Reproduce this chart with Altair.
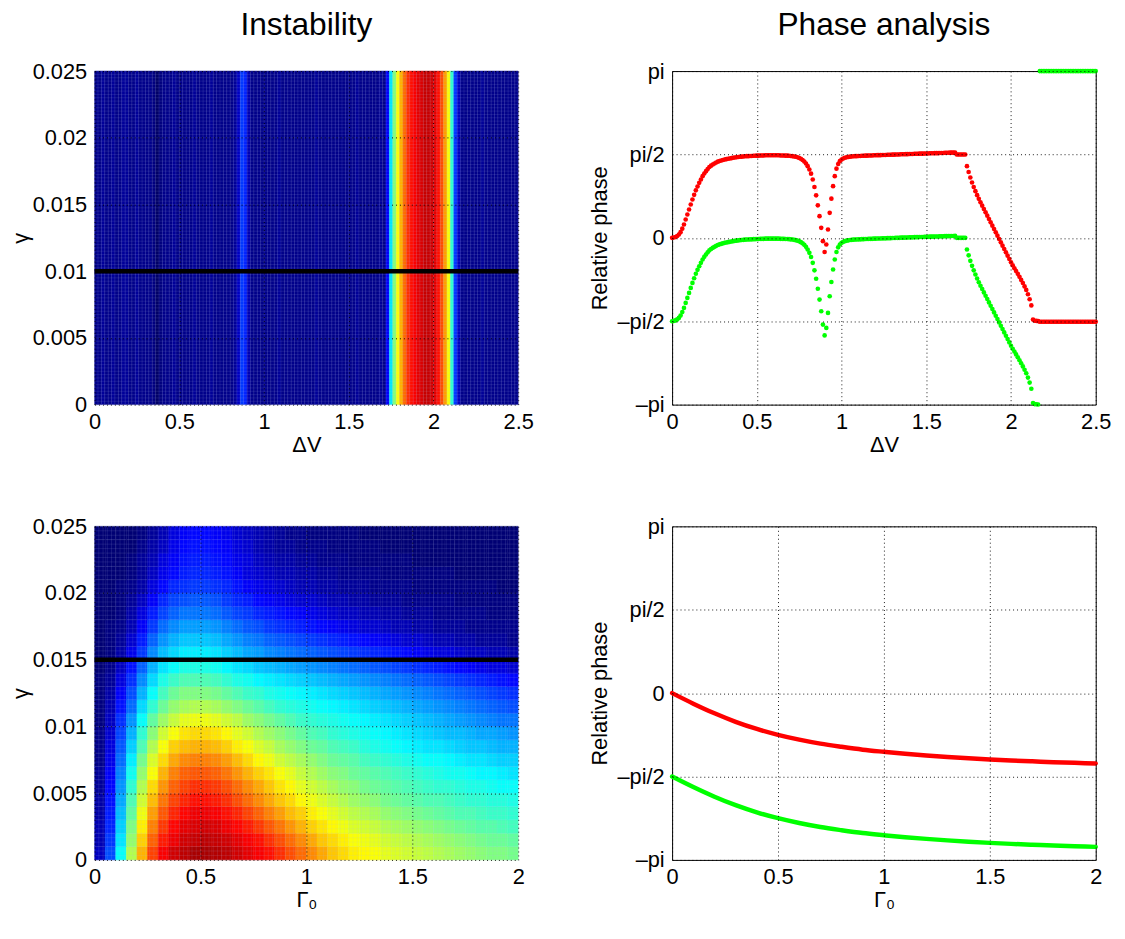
import altair as alt
import numpy as np
import pandas as pd

FONT = "Liberation Sans"
W, H = 428, 337

# ---------------- Top-left: instability map vs ΔV (value x100, columns of width 0.02) ----------------
dv_step = 0.02
inst_dv = [
    4, 4, 5, 4, 4, 5, 4, 4, 5, 5,
    4, 4, 5, 4, 4, 4, 4, 3, 1, 3,
    4, 4, 4, 5, 4, 4, 4, 4, 4, 5,
    4, 4, 4, 4, 5, 4, 4, 4, 4, 4,
    4, 5, 8, 18, 16, 7, 4, 4, 4, 4,
    4, 4, 4, 4, 5, 4, 4, 4, 4, 4,
    4, 4, 4, 4, 4, 5, 4, 4, 4, 4,
    4, 4, 4, 4, 4, 4, 4, 5, 4, 4,
    4, 4, 4, 4, 5, 4, 12, 35, 50, 62,
    70, 77, 83, 86, 88, 90, 91, 93, 93, 92,
    90, 86, 80, 72, 62, 42, 18, 8, 4, 4,
    4, 4, 4, 4, 5, 4, 4, 4, 4, 4,
    4, 4, 4, 4, 4,
]
gamma_range = [0.0, 0.025]
cut_gamma_top = [0.01]

# ---------------- Bottom-left: instability map vs Γ0 and γ (value x100) ----------------
g0_step = 0.05
gam_step = 0.001
inst_g0 = [  # rows from γ=0 upward, columns from Γ0=0 rightward
    [8, 20, 38, 55, 70, 81, 88, 92, 94, 96, 96, 95, 94, 92, 90, 88, 86, 83, 80, 77, 74, 71, 68, 66, 64, 63, 62, 60, 59, 58, 57, 56, 55, 54, 53, 52, 51, 50, 50, 49],
    [7, 18, 35, 52, 67, 78, 85, 89, 92, 93, 94, 93, 92, 90, 88, 86, 83, 80, 77, 74, 71, 68, 66, 64, 62, 61, 60, 58, 57, 56, 55, 54, 53, 52, 51, 50, 49, 48, 48, 47],
    [7, 16, 33, 50, 64, 75, 82, 87, 90, 91, 92, 91, 89, 87, 85, 82, 79, 76, 73, 70, 67, 65, 63, 61, 59, 58, 57, 55, 54, 53, 52, 51, 50, 49, 48, 47, 46, 46, 45, 44],
    [6, 15, 31, 47, 61, 72, 79, 84, 87, 89, 89, 88, 86, 84, 81, 78, 75, 72, 69, 67, 64, 62, 60, 58, 56, 55, 54, 52, 51, 50, 49, 48, 47, 46, 45, 45, 44, 43, 43, 42],
    [6, 14, 29, 45, 58, 69, 76, 81, 84, 86, 86, 85, 83, 80, 77, 74, 71, 68, 66, 63, 61, 59, 57, 55, 53, 52, 51, 49, 48, 47, 46, 45, 45, 44, 43, 42, 42, 41, 41, 40],
    [5, 13, 27, 42, 55, 66, 73, 78, 81, 83, 83, 82, 80, 77, 74, 71, 68, 65, 63, 60, 58, 56, 54, 52, 51, 49, 48, 47, 46, 45, 44, 43, 42, 42, 41, 40, 40, 39, 38, 38],
    [5, 12, 25, 39, 52, 62, 70, 75, 78, 79, 79, 78, 76, 73, 70, 67, 65, 62, 60, 57, 55, 53, 51, 50, 48, 47, 46, 45, 44, 43, 42, 41, 40, 39, 39, 38, 37, 37, 36, 35],
    [4, 11, 23, 36, 49, 59, 66, 71, 74, 75, 75, 74, 72, 69, 66, 63, 61, 58, 56, 54, 52, 50, 48, 47, 46, 44, 43, 42, 41, 40, 39, 38, 38, 37, 36, 35, 35, 34, 33, 33],
    [4, 10, 21, 33, 45, 55, 62, 67, 69, 70, 70, 69, 67, 64, 62, 59, 57, 54, 52, 50, 48, 47, 45, 44, 43, 41, 40, 39, 38, 37, 36, 35, 35, 34, 33, 32, 32, 31, 30, 30],
    [4, 9, 19, 30, 42, 51, 58, 62, 65, 66, 66, 65, 63, 60, 58, 55, 53, 51, 49, 47, 45, 44, 42, 41, 40, 39, 38, 37, 36, 35, 34, 33, 32, 31, 31, 30, 29, 29, 28, 27],
    [3, 8, 17, 27, 38, 47, 53, 57, 60, 61, 61, 60, 58, 56, 53, 51, 49, 47, 45, 43, 42, 41, 40, 39, 38, 37, 36, 35, 34, 33, 32, 31, 30, 29, 28, 27, 26, 25, 24, 24],
    [3, 7, 14, 23, 34, 42, 48, 52, 54, 55, 55, 54, 52, 50, 48, 46, 44, 42, 41, 40, 39, 38, 37, 36, 35, 34, 33, 32, 31, 30, 29, 28, 27, 26, 25, 24, 23, 22, 21, 20],
    [3, 6, 12, 20, 30, 38, 44, 48, 50, 50, 50, 49, 47, 45, 43, 42, 40, 39, 38, 37, 36, 35, 34, 33, 32, 31, 30, 29, 28, 27, 26, 25, 24, 23, 22, 21, 20, 19, 18, 17],
    [3, 5, 10, 17, 26, 34, 40, 43, 45, 45, 45, 44, 42, 40, 39, 37, 36, 35, 34, 33, 32, 31, 30, 29, 28, 27, 26, 25, 24, 23, 22, 21, 20, 19, 18, 17, 16, 15, 14, 13],
    [2, 4, 8, 14, 22, 30, 35, 38, 40, 40, 40, 39, 37, 35, 34, 32, 31, 30, 29, 28, 27, 26, 25, 24, 23, 22, 21, 20, 19, 18, 17, 16, 15, 14, 13, 12, 11, 10, 10, 9],
    [2, 3, 6, 11, 18, 26, 31, 34, 36, 36, 36, 35, 33, 31, 29, 28, 26, 25, 24, 23, 22, 21, 20, 19, 18, 17, 16, 15, 14, 13, 12, 11, 10, 10, 9, 8, 8, 7, 7, 6],
    [2, 3, 5, 9, 15, 22, 27, 30, 32, 32, 32, 31, 29, 27, 25, 24, 22, 21, 20, 19, 18, 17, 16, 15, 14, 13, 12, 11, 10, 9, 9, 8, 7, 7, 6, 6, 5, 5, 5, 4],
    [2, 3, 4, 7, 12, 18, 23, 26, 28, 28, 28, 27, 25, 23, 21, 20, 18, 17, 16, 15, 14, 13, 12, 11, 10, 9, 9, 8, 7, 7, 6, 6, 5, 5, 5, 4, 4, 4, 4, 4],
    [2, 2, 3, 6, 10, 15, 19, 22, 24, 24, 24, 23, 21, 19, 18, 16, 15, 14, 13, 12, 11, 10, 9, 8, 8, 7, 7, 6, 6, 5, 5, 5, 4, 4, 4, 4, 4, 3, 3, 3],
    [2, 2, 3, 5, 8, 12, 16, 19, 20, 21, 21, 20, 18, 16, 15, 13, 12, 11, 10, 9, 9, 8, 7, 7, 6, 6, 5, 5, 5, 4, 4, 4, 4, 4, 3, 3, 3, 3, 3, 3],
    [2, 2, 3, 4, 6, 10, 13, 16, 17, 18, 18, 17, 16, 14, 12, 11, 10, 9, 8, 7, 7, 6, 6, 5, 5, 5, 4, 4, 4, 4, 3, 3, 3, 3, 3, 3, 3, 3, 2, 2],
    [2, 2, 2, 3, 5, 8, 11, 13, 15, 16, 16, 15, 14, 12, 10, 9, 8, 7, 7, 6, 6, 5, 5, 4, 4, 4, 4, 3, 3, 3, 3, 3, 3, 3, 2, 2, 2, 2, 2, 2],
    [2, 2, 2, 3, 5, 7, 10, 12, 14, 15, 15, 14, 13, 11, 10, 8, 7, 6, 6, 5, 5, 4, 4, 4, 3, 3, 3, 3, 3, 3, 2, 2, 2, 2, 2, 2, 2, 2, 2, 2],
    [2, 2, 2, 2, 4, 6, 8, 11, 13, 14, 14, 13, 12, 10, 9, 7, 6, 5, 5, 4, 4, 4, 3, 3, 3, 3, 3, 2, 2, 2, 2, 2, 2, 2, 2, 2, 2, 2, 2, 2],
    [2, 2, 2, 2, 3, 5, 7, 10, 12, 13, 13, 12, 11, 9, 8, 7, 6, 5, 4, 4, 3, 3, 3, 3, 3, 2, 2, 2, 2, 2, 2, 2, 2, 2, 2, 2, 2, 2, 2, 2],
]
cut_gamma_bot = [0.015]

# ---------------- Top-right: relative phase vs ΔV (milli-π, step 0.01) ----------------
dv_pt_step = 0.01
red_dv = [
    0, 2, 5, 11, 20, 34, 55, 80, 110, 140,
    170, 200, 230, 258, 285, 308, 330, 350, 370, 386,
    400, 413, 425, 433, 440, 446, 452, 457, 461, 464,
    467, 470, 472, 474, 476, 478, 480, 482, 483, 485,
    486, 487, 488, 489, 490, 490, 491, 491, 492, 492,
    493, 493, 494, 494, 494, 495, 495, 495, 495, 495,
    495, 495, 495, 495, 494, 494, 494, 493, 493, 492,
    491, 490, 488, 486, 483, 479, 474, 467, 458, 446,
    430, 410, 385, 350, 305, 255, 195, 130, 60, -20,
    -85, -40, 50, 150, 235, 310, 370, 415, 443, 460,
    470, 476, 480, 483, 485, 487, 488, 489, 490, 490,
    491, 491, 492, 492, 493, 493, 494, 494, 494, 495,
    495, 496, 496, 496, 497, 497, 497, 498, 498, 498,
    499, 499, 500, 500, 500, 501, 501, 501, 502, 502,
    503, 503, 503, 504, 504, 504, 505, 505, 505, 506,
    506, 506, 507, 507, 507, 508, 508, 508, 509, 509,
    509, 510, 510, 510, 511, 511, 511, 512, 500, 500,
    500, 500, 500, 500, 430, 395, 362, 332, 305, 280,
    256, 234, 213, 193, 173, 153, 133, 113, 93, 73,
    53, 33, 13, -7, -27, -47, -67, -87, -107, -127,
    -147, -165, -182, -199, -216, -234, -252, -271, -291, -312,
    -338, -368, -405, -490, -497, -498, -499, -503, -503, -503,
    -503, -503, -503, -503, -503, -503, -503, -503, -503, -503,
    -503, -503, -503, -503, -503, -503, -503, -503, -503, -503,
    -503, -503, -503, -503, -503, -503, -503, -503, -503, -503, -503,
]
green_dv = [
    -500, -498, -495, -489, -480, -466, -445, -420, -390, -360,
    -330, -300, -270, -242, -215, -192, -170, -150, -130, -114,
    -100, -87, -75, -67, -60, -54, -48, -43, -39, -36,
    -33, -30, -28, -26, -24, -22, -20, -18, -17, -15,
    -14, -13, -12, -11, -10, -10, -9, -9, -8, -8,
    -7, -7, -6, -6, -6, -5, -5, -5, -5, -5,
    -5, -5, -5, -5, -6, -6, -6, -7, -7, -8,
    -9, -10, -12, -14, -17, -21, -26, -33, -42, -54,
    -70, -90, -115, -150, -195, -245, -305, -370, -440, -520,
    -585, -540, -450, -350, -265, -190, -130, -85, -57, -40,
    -30, -24, -20, -17, -15, -13, -12, -11, -10, -10,
    -9, -9, -8, -8, -7, -7, -6, -6, -6, -5,
    -5, -4, -4, -4, -3, -3, -3, -2, -2, -2,
    -1, -1, 0, 0, 0, 1, 1, 1, 2, 2,
    3, 3, 3, 4, 4, 4, 5, 5, 5, 6,
    6, 6, 7, 7, 7, 8, 8, 8, 9, 9,
    9, 10, 10, 10, 11, 11, 11, 12, 0, 0,
    0, 0, 0, 0, -70, -105, -138, -168, -195, -220,
    -244, -266, -287, -307, -327, -347, -367, -387, -407, -427,
    -447, -467, -487, -507, -527, -547, -567, -587, -607, -627,
    -647, -665, -682, -699, -716, -734, -752, -771, -791, -812,
    -838, -868, -905, -990, -997, -998, -999, 1000, 1000, 1000,
    1000, 1000, 1000, 1000, 1000, 1000, 1000, 1000, 1000, 1000,
    1000, 1000, 1000, 1000, 1000, 1000, 1000, 1000, 1000, 1000,
    1000, 1000, 1000, 1000, 1000, 1000, 1000, 1000, 1000, 1000, 1000,
]

# ---------------- Bottom-right: relative phase vs Γ0 (milli-π) ----------------
g0_pts = [0.0, 0.1, 0.2, 0.3, 0.4, 0.5, 0.6, 0.7, 0.8, 0.9, 1.0,
          1.1, 1.2, 1.3, 1.4, 1.5, 1.6, 1.7, 1.8, 1.9, 2.0]
red_g0 = [0, -63, -121, -172, -215, -250, -279, -303, -322, -339, -352,
          -364, -374, -383, -391, -398, -404, -409, -414, -418, -422]
green_g0 = [-500, -563, -621, -672, -715, -750, -779, -803, -822, -839, -852,
            -864, -874, -883, -891, -898, -904, -909, -914, -918, -922]

# ---------------- tables ----------------
top_heat = pd.DataFrame({
    "x": [i * dv_step for i in range(len(inst_dv))],
    "x2": [(i + 1) * dv_step for i in range(len(inst_dv))],
    "y": gamma_range[0], "y2": gamma_range[1],
    "v": inst_dv,
})
rows = []
for j, row in enumerate(inst_g0):
    for i, v in enumerate(row):
        rows.append({"x": i * g0_step, "x2": (i + 1) * g0_step,
                     "y": j * gam_step, "y2": (j + 1) * gam_step, "v": v})
bot_heat = pd.DataFrame(rows)

xs_dv = [round(i * dv_pt_step, 2) for i in range(len(red_dv))]
df_red_dv = pd.DataFrame({"x": xs_dv, "p": [v / 1000 for v in red_dv]})
df_green_dv = pd.DataFrame({"x": xs_dv, "p": [v / 1000 for v in green_dv]})
df_red_g0 = pd.DataFrame({"x": g0_pts, "p": [v / 1000 for v in red_g0]})
df_green_g0 = pd.DataFrame({"x": g0_pts, "p": [v / 1000 for v in green_g0]})

# decorative cell-edge texture (faceted shading look)
tex_top_x = pd.DataFrame({"x": np.linspace(0, 2.5, 126)})
tex_top_y = pd.DataFrame({"y": np.linspace(0, 0.025, 101)})
tex_bot_x = pd.DataFrame({"x": np.linspace(0, 2.0, 101)})
tex_bot_y = pd.DataFrame({"y": np.linspace(0, 0.025, 76)})

# ---------------- styling helpers ----------------
LBL = 22
jet = alt.Scale(domain=[0, 4, 12.5, 37.5, 62.5, 87.5, 100],
                range=["#00005c", "#00008a", "#0000ff", "#00ffff", "#ffff00", "#ff0000", "#800000"],
                interpolate="rgb", clamp=True)


def axis(title, values, fmt=None, label_expr=None, label_pad=8, title_pad=0):
    kw = dict(title=title, values=values, grid=True, gridDash=[1, 3], gridColor="black",
              gridWidth=1, gridOpacity=0.9, domain=False, ticks=False,
              labelFont=FONT, titleFont=FONT, labelFontSize=LBL, titleFontSize=LBL,
              titleFontWeight="normal", labelColor="black", titleColor="black",
              labelPadding=label_pad, titlePadding=title_pad, labelFlush=False,
              labelOverlap=False, zindex=1)
    if fmt is not None:
        kw["format"] = fmt
    if label_expr is not None:
        kw["labelExpr"] = label_expr
    return alt.Axis(**kw)


def title(text):
    return alt.TitleParams(text=text, font=FONT, fontSize=32, fontWeight="normal",
                           color="black", anchor="middle", baseline="alphabetic",
                           offset=-7)


gam_axis = axis("γ", [0, 0.005, 0.01, 0.015, 0.02, 0.025], fmt=".3~f", title_pad=0)
pi_expr = ("datum.value == 1 ? 'pi' : datum.value == 0.5 ? 'pi/2' : datum.value == 0 ? '0' : "
           "datum.value == -0.5 ? '\u2013pi/2' : '\u2013pi'")
phase_axis = axis("Relative phase", [-1, -0.5, 0, 0.5, 1], label_expr=pi_expr, title_pad=6)
sy_gam = alt.Scale(domain=gamma_range, nice=False, zero=False)
sy_ph = alt.Scale(domain=[-1, 1], nice=False, zero=False)


def heatmap(df, xmax, xvals, xtitle, tex_x, tex_y, cut):
    sx = alt.Scale(domain=[0, xmax], nice=False, zero=False)
    xa = axis(xtitle, xvals, fmt="~g", label_pad=7, title_pad=2)
    X = lambda f: alt.X(f"{f}:Q", scale=sx, axis=xa)
    Y = lambda f: alt.Y(f"{f}:Q", scale=sy_gam, axis=gam_axis)
    cells = alt.Chart(df).mark_rect(strokeWidth=0.5).encode(
        x=X("x"), x2="x2", y=Y("y"), y2="y2",
        color=alt.Color("v:Q", scale=jet, legend=None),
        stroke=alt.Stroke("v:Q", scale=jet, legend=None),
    )
    tv = alt.Chart(tex_x).mark_rule(color="#b8c0f0", opacity=0.16, strokeWidth=0.8).encode(x=X("x"))
    th = alt.Chart(tex_y).mark_rule(color="#b8c0f0", opacity=0.16, strokeWidth=0.8).encode(y=Y("y"))
    line = alt.Chart(pd.DataFrame({"y": cut})).mark_rule(color="black", strokeWidth=4.5).encode(y=Y("y"))
    return alt.layer(cells, tv, th, line)


tl = heatmap(top_heat, 2.5, [0, 0.5, 1, 1.5, 2, 2.5], "ΔV", tex_top_x, tex_top_y, cut_gamma_top) \
    .properties(width=W, height=H, title=title("Instability"))
bl = heatmap(bot_heat, 2.0, [0, 0.5, 1, 1.5, 2], "Γ\u2080", tex_bot_x, tex_bot_y, cut_gamma_bot) \
    .properties(width=W, height=H)

sx_dv = alt.Scale(domain=[0, 2.5], nice=False, zero=False)
ax_dv = axis("ΔV", [0, 0.5, 1, 1.5, 2, 2.5], fmt="~g", label_pad=7, title_pad=2)
tr = alt.layer(
    alt.Chart(df_red_dv).mark_circle(size=22, opacity=1, color="#ff0000").encode(
        x=alt.X("x:Q", scale=sx_dv, axis=ax_dv), y=alt.Y("p:Q", scale=sy_ph, axis=phase_axis)),
    alt.Chart(df_green_dv).mark_circle(size=22, opacity=1, color="#00ff00").encode(
        x=alt.X("x:Q", scale=sx_dv, axis=ax_dv), y=alt.Y("p:Q", scale=sy_ph, axis=phase_axis)),
).properties(width=W, height=H, title=title("Phase analysis"),
             view=alt.ViewBackground(stroke="black", strokeWidth=1))

sx_g0 = alt.Scale(domain=[0, 2], nice=False, zero=False)
ax_g0 = axis("Γ\u2080", [0, 0.5, 1, 1.5, 2], fmt="~g", label_pad=7, title_pad=2)
br = alt.layer(
    alt.Chart(df_red_g0).mark_line(color="#ff0000", strokeWidth=4.5, strokeCap="round",
                                   interpolate="monotone").encode(
        x=alt.X("x:Q", scale=sx_g0, axis=ax_g0), y=alt.Y("p:Q", scale=sy_ph, axis=phase_axis)),
    alt.Chart(df_green_g0).mark_line(color="#00ff00", strokeWidth=4.5, strokeCap="round",
                                     interpolate="monotone").encode(
        x=alt.X("x:Q", scale=sx_g0, axis=ax_g0), y=alt.Y("p:Q", scale=sy_ph, axis=phase_axis)),
).properties(width=W, height=H, view=alt.ViewBackground(stroke="black", strokeWidth=1))

chart = alt.concat(tl, tr, bl, br, columns=2, bounds="flush",
                   spacing={"row": 123, "column": 155.5}).properties(
    padding={"left": 0.5, "top": -4, "right": 5, "bottom": 5},
    background="white",
).configure_view(stroke=None)

chart.save("out.html", embed_options={"renderer": "svg", "actions": False})
